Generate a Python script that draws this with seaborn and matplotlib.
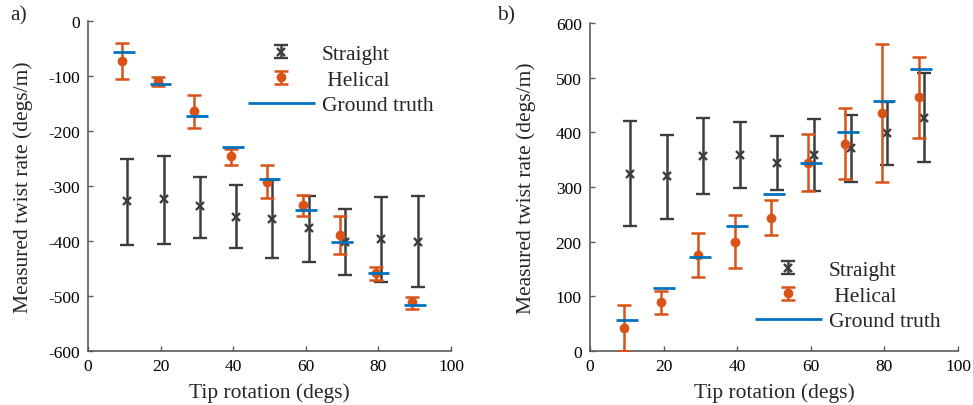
import numpy as np
import matplotlib
matplotlib.use("Agg")
import matplotlib.pyplot as plt
from matplotlib.legend_handler import HandlerErrorbar
from matplotlib.container import ErrorbarContainer
import seaborn as sns

# ---- data ----
tip_rotation = [10, 20, 30, 40, 50, 60, 70, 80, 90]

ground_truth = [57, 115, 172, 229, 287, 344, 401, 458, 516]

# panel a) (negative rotation)
a_straight_mean = [-327, -324, -337, -356, -360, -377, -402, -397, -401]
a_straight_hi = [-250, -245, -283, -299, -289, -318, -342, -320, -319]
a_straight_lo = [-407, -405, -394, -412, -431, -439, -461, -474, -483]
a_helical_mean = [-73, -109, -164, -246, -292, -334, -389, -459, -510]
a_helical_hi = [-40, -101, -135, -232, -262, -317, -354, -447, -502]
a_helical_lo = [-106, -118, -195, -261, -322, -355, -423, -471, -523]

# panel b) (positive rotation)
b_straight_mean = [324, 320, 356, 359, 343, 359, 372, 399, 427]
b_straight_hi = [420, 396, 426, 419, 393, 424, 432, 455, 508]
b_straight_lo = [228, 242, 287, 299, 294, 293, 310, 341, 346]
b_helical_mean = [42, 89, 175, 200, 244, 344, 379, 436, 464]
b_helical_hi = [84, 109, 215, 249, 276, 397, 444, 562, 538]
b_helical_lo = [0, 68, 136, 152, 212, 292, 314, 310, 390]

# ---- style ----
sns.set_style("ticks")
FONT = ["Liberation Serif", "DejaVu Serif"]
plt.rcParams["font.family"] = FONT
plt.rcParams["axes.unicode_minus"] = False
plt.rcParams["xtick.direction"] = "in"
plt.rcParams["ytick.direction"] = "in"

GREY = "#3d3d3d"
ORANGE = "#D95319"
BLUE = "#0072BD"
AXC = "#5a5a5a"
LABEL_FS = 15.5
TICK_FS = 12.5

fig = plt.figure(figsize=(9.73, 4.06), dpi=100)
W, H = 973, 406
axA = fig.add_axes([88 / W, 1 - 352 / H, (451 - 88) / W, (352 - 22) / H])
axB = fig.add_axes([590 / W, 1 - 352 / H, (958 - 590) / W, (352 - 24) / H])

x = np.array(tip_rotation, dtype=float)
gt_half = 3.0
dx_straight = 0.8
dx_helical = -0.7


def draw(ax, s_mean, s_hi, s_lo, h_mean, h_hi, h_lo, gt, ylim, yticks,
         legend_anchor, ylabelpad):
    s_mean = np.array(s_mean); h_mean = np.array(h_mean)
    s_err = [s_mean - np.array(s_lo), np.array(s_hi) - s_mean]
    h_err = [h_mean - np.array(h_lo), np.array(h_hi) - h_mean]
    hs = ax.errorbar(x + dx_straight, s_mean, yerr=s_err, fmt="x", color=GREY,
                     ecolor=GREY, elinewidth=1.8, capsize=5, capthick=1.8,
                     markersize=5.5, markeredgewidth=1.7, label="Straight", zorder=2)
    hh = ax.errorbar(x + dx_helical, h_mean, yerr=h_err, fmt="o", color=ORANGE,
                     ecolor=ORANGE, elinewidth=1.8, capsize=5, capthick=1.8,
                     markersize=6, label="Helical", zorder=3)
    gt = np.array(gt)
    hg = ax.hlines(gt, x - gt_half, x + gt_half, colors=BLUE, linewidth=2,
                   label="Ground truth", zorder=4)
    ax.set_xlim(0, 100)
    ax.set_ylim(*ylim)
    ax.set_xticks([0, 20, 40, 60, 80, 100])
    ax.set_yticks(yticks)
    ax.tick_params(axis="both", labelsize=TICK_FS, colors=AXC, labelcolor="black",
                   length=3.5, width=1, bottom=True, left=True)
    ax.tick_params(axis="y", pad=6)
    ax.tick_params(axis="x", pad=5)
    for sp in ["top", "right"]:
        ax.spines[sp].set_visible(False)
    for sp in ["left", "bottom"]:
        ax.spines[sp].set_color(AXC)
        ax.spines[sp].set_linewidth(1.2)
    ax.set_xlabel("Tip rotation (degs)", fontsize=LABEL_FS, labelpad=6)
    ax.set_ylabel("Measured twist rate (degs/m)", fontsize=LABEL_FS, labelpad=ylabelpad)
    leg = ax.legend([hs, hh, hg], ["Straight", " Helical", "Ground truth"],
                    loc="upper left", bbox_to_anchor=legend_anchor,
                    frameon=False, fontsize=LABEL_FS, handlelength=3.1,
                    handletextpad=0.33, labelspacing=0.26, borderaxespad=0,
                    borderpad=0,
                    handler_map={ErrorbarContainer: HandlerErrorbar(xerr_size=0.25, yerr_size=0.3)})
    return leg


draw(axA, a_straight_mean, a_straight_hi, a_straight_lo,
     a_helical_mean, a_helical_hi, a_helical_lo,
     [-g for g in ground_truth], (-600, 0), [-600, -500, -400, -300, -200, -100, 0],
     ((248 - 88) / (451 - 88), (352 - 45) / 330), 11)
draw(axB, b_straight_mean, b_straight_hi, b_straight_lo,
     b_helical_mean, b_helical_hi, b_helical_lo,
     ground_truth, (0, 600), [0, 100, 200, 300, 400, 500, 600],
     ((755 - 590) / (958 - 590), (352 - 261) / 328), 14)

fig.text(10 / W, 1 - 16 / H, "a)", fontsize=LABEL_FS, va="center", ha="left")
fig.text(497 / W, 1 - 16 / H, "b)", fontsize=LABEL_FS, va="center", ha="left")

fig.savefig("out.png", dpi=100, facecolor="white")
